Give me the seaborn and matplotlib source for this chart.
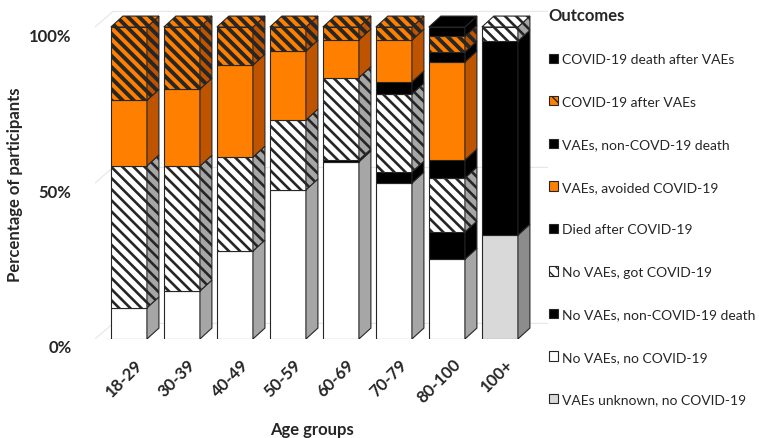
import numpy as np
import pandas as pd
import matplotlib.pyplot as plt
import seaborn as sns
from matplotlib.patches import Polygon, Patch
from matplotlib.transforms import ScaledTranslation

# ---- data (percent of participants per age group), stacked bottom -> top ----
age_groups = ["18-29", "30-39", "40-49", "50-59", "60-69", "70-79", "80-100", "100+"]

vaes_unknown_no_covid = [0, 0, 0, 0, 0, 0, 0, 33.3]
no_vaes_no_covid = [10.0, 15.4, 28.2, 47.8, 56.8, 50.0, 25.6, 0]
no_vaes_noncovid_death = [0, 0, 0, 0, 0.6, 3.5, 8.7, 62.2]
no_vaes_got_covid = [45.5, 40.0, 30.1, 22.4, 26.4, 25.0, 17.3, 4.5]
died_after_covid = [0, 0, 0, 0, 0, 3.9, 5.8, 0]
vaes_avoided_covid = [21.0, 24.7, 29.5, 22.1, 12.1, 13.4, 31.4, 0]
vaes_noncovid_death = [0, 0, 0, 0, 0, 0, 3.2, 0]
covid_after_vaes = [23.5, 19.9, 12.2, 7.7, 4.1, 4.2, 5.0, 0]
covid_death_after_vaes = [0, 0, 0, 0, 0, 0, 3.0, 0]

outcomes = [
    "VAEs unknown, no COVID-19",
    "No VAEs, no COVID-19",
    "No VAEs, non-COVID-19 death",
    "No VAEs, got COVID-19",
    "Died after COVID-19",
    "VAEs, avoided COVID-19",
    "VAEs, non-COVD-19 death",
    "COVID-19 after VAEs",
    "COVID-19 death after VAEs",
]
series = [vaes_unknown_no_covid, no_vaes_no_covid, no_vaes_noncovid_death,
          no_vaes_got_covid, died_after_covid, vaes_avoided_covid,
          vaes_noncovid_death, covid_after_vaes, covid_death_after_vaes]

data = pd.DataFrame(dict(zip(outcomes, series)), index=age_groups)

# ---- style ----
sns.set_theme(style="white")
plt.rcParams['font.family'] = ['Lato', 'DejaVu Sans']

ORANGE = '#FF8000'
DIAG = chr(92) * 3   # downward diagonal hatch
FACE = ['#D9D9D9', 'white', 'black', 'white', 'black', ORANGE, 'black', ORANGE, 'black']
SIDE = ['#8C8C8C', '#A6A6A6', 'black', '#A6A6A6', 'black', '#BF5400', 'black', '#BF5400', 'black']
HATCH = [None, None, None, DIAG, None, None, None, DIAG, None]
HATCH_LW = [1.0, 1.0, 1.0, 1.9, 1.0, 1.0, 1.0, 2.8, 1.0]
EDGE = '#262626'

BAR_W = 0.68
DX, DY = 0.226, 3.5   # depth of the pseudo-3D boxes (data units)


def set_hatch_lw(p, lw):
    if hasattr(p, 'set_hatch_linewidth'):
        p.set_hatch_linewidth(lw)


fig = plt.figure(figsize=(7.59, 4.39), dpi=100)
ax = fig.add_axes([95 / 759, 99 / 439, 452.6 / 759, 106 * 3.12 / 439])
ax.set_xlim(-0.64, 7.9)
ax.set_ylim(0, 106)

# faint back-wall gridlines
for v in [0, 50, 100]:
    ax.plot([-0.64, -0.3, 7.9], [v, v + 5, v + 5], color='#E6E6E6', lw=0.8, zorder=1)

x = np.arange(len(age_groups))
bottom = np.zeros(len(x))
top_idx = [0] * len(x)
for k, name in enumerate(outcomes):
    vals = data[name].to_numpy(dtype=float)
    mask = vals > 0
    with plt.rc_context({'hatch.linewidth': HATCH_LW[k]}):
        bars = ax.bar(x[mask], vals[mask], width=BAR_W, bottom=bottom[mask],
                      color=FACE[k], hatch=HATCH[k], edgecolor=EDGE,
                      linewidth=0.8, zorder=3)
        for b in bars:
            set_hatch_lw(b, HATCH_LW[k])
        for xi, b0, v in zip(x[mask], bottom[mask], vals[mask]):
            xr = xi + BAR_W / 2
            side = Polygon([(xr, b0), (xr + DX, b0 + DY), (xr + DX, b0 + v + DY), (xr, b0 + v)],
                           closed=True, facecolor=SIDE[k], edgecolor=EDGE,
                           hatch=HATCH[k], linewidth=0.8, zorder=3)
            set_hatch_lw(side, HATCH_LW[k])
            ax.add_patch(side)
            top_idx[xi] = k
    bottom += vals

# top faces
for xi in x:
    k = top_idx[xi]
    t = bottom[xi]
    xl, xr = xi - BAR_W / 2, xi + BAR_W / 2
    with plt.rc_context({'hatch.linewidth': HATCH_LW[k]}):
        top = Polygon([(xl, t), (xl + DX, t + DY), (xr + DX, t + DY), (xr, t)],
                      closed=True, facecolor=FACE[k], edgecolor=EDGE,
                      hatch=HATCH[k], linewidth=0.8, zorder=3)
        set_hatch_lw(top, HATCH_LW[k])
        ax.add_patch(top)

# axes
ax.set_yticks([0, 50, 100])
ax.set_yticklabels(['0%', '50%', '100%'], fontsize=12, fontweight='bold')
ax.set_xticks(x + 0.1)
ax.set_xticklabels(age_groups, rotation=45, ha='right', rotation_mode='anchor',
                   fontsize=12, fontweight='bold')
ax.tick_params(axis='y', length=0, pad=17)
ax.tick_params(axis='x', length=0, pad=12)
offset = ScaledTranslation(0, -0.07, fig.dpi_scale_trans)
for lbl in ax.get_yticklabels():
    lbl.set_transform(lbl.get_transform() + offset)
sns.despine(ax=ax, left=True, bottom=True)
ax.grid(False)

fig.text(15 / 759, 1 - 185 / 439, 'Percentage of participants', rotation=90,
         ha='center', va='center', fontsize=12, fontweight='bold')
fig.text(312 / 759, 1 - 430 / 439, 'Age groups', ha='center', va='center',
         fontsize=12, fontweight='bold')

# legend (top of stack first)
handles, labels = [], []
for k in reversed(range(len(outcomes))):
    with plt.rc_context({'hatch.linewidth': 1.0}):
        handles.append(Patch(facecolor=FACE[k], edgecolor=EDGE, hatch=HATCH[k], linewidth=0.8))
    labels.append(outcomes[k])
leg = fig.legend(handles, labels, loc='upper left', bbox_to_anchor=(543 / 759, 1 - 2 / 439),
                 frameon=False, title='Outcomes', alignment='left',
                 title_fontproperties={'weight': 'bold', 'size': 12},
                 fontsize=10, handlelength=0.65, handleheight=0.65,
                 handletextpad=0.3, labelspacing=2.2, borderaxespad=0)

fig.savefig('out.png', dpi=100)
